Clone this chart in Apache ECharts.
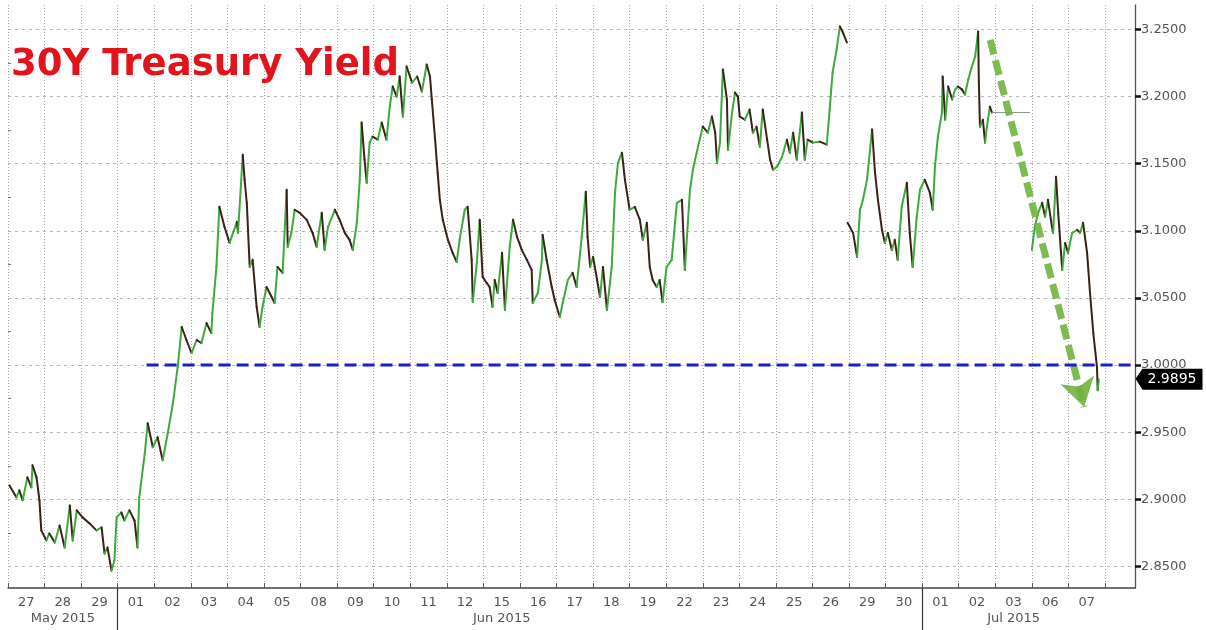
<!DOCTYPE html>
<html>
<head>
<meta charset="utf-8">
<script src="https://cdn.jsdelivr.net/npm/echarts@6/dist/echarts.min.js"></script>
<style>
html,body{margin:0;padding:0;background:#fff;}
#chart{width:1206px;height:630px;}
</style>
</head>
<body>
<div id="chart"></div>
<script>
// ---- data (x = trading-day index + fraction of session, y = yield %) ----
const dayLabels = ['27','28','29','01','02','03','04','05','08','09','10','11','12','15','16','17','18','19','22','23','24','25','26','29','30','01','02','03','06','07'];
const monthLabels = ['May 2015','Jun 2015','Jul 2015'];
const monthLabelPos = [1.5, 13.5, 27.5];
const monthBreaks = [3, 25];
const yTicks = [2.85, 2.90, 2.95, 3.00, 3.05, 3.10, 3.15, 3.20, 3.25];
const yMinorTicks = [2.875, 2.925, 2.975, 3.025, 3.075, 3.125, 3.175, 3.225];

// null marks a break between sessions (price gap)
const pos = [0.04,0.23,0.31,0.40,0.53,0.64,0.67,0.78,0.86,0.91,1.05,1.13,1.28,1.41,1.55,1.69,1.77,1.88,2.04,2.23,2.42,2.56,2.64,2.72,2.83,2.91,2.97,3.10,3.18,3.32,3.46,3.54,3.59,3.74,3.82,3.96,4.09,4.23,4.37,4.51,4.64,4.75,4.88,5.02,5.16,5.29,5.43,5.56,5.59,5.70,5.78,5.92,6.06,6.26,6.29,6.42,6.47,6.53,6.61,6.69,6.80,6.88,6.96,7.07,7.21,7.29,7.37,7.51,7.62,7.65,7.75,7.84,7.98,8.17,8.33,8.44,8.58,8.66,8.75,8.94,9.07,9.21,9.34,9.43,9.54,9.62,9.67,9.75,9.81,9.89,9.97,10.11,10.22,10.35,10.44,10.52,10.63,10.71,10.80,10.90,11.05,11.19,11.32,11.45,11.54,11.59,11.68,11.75,11.81,11.89,12.03,12.16,12.27,12.35,12.49,12.57,12.68,12.71,12.82,12.90,12.98,13.09,13.17,13.25,13.31,13.39,13.51,13.59,13.72,13.81,13.92,14.05,14.19,14.32,14.35,14.49,14.60,14.62,14.73,14.87,14.95,15.09,15.17,15.31,15.44,15.55,15.69,15.80,15.85,15.92,16.00,16.11,16.19,16.27,16.38,16.51,16.60,16.68,16.79,16.87,17.00,17.14,17.28,17.36,17.47,17.55,17.63,17.74,17.82,17.90,18.01,18.15,18.29,18.43,18.51,18.65,18.73,18.87,19.00,19.14,19.25,19.34,19.39,19.47,19.55,19.66,19.69,19.80,19.88,19.96,20.01,20.15,20.28,20.37,20.47,20.56,20.64,20.76,20.84,20.92,21.03,21.17,21.30,21.38,21.47,21.57,21.71,21.79,21.87,22.01,22.20,22.39,22.47,22.55,22.66,22.75,22.83,22.94,
 null,
 22.96,23.11,23.22,23.30,23.38,23.49,23.63,23.71,23.79,23.90,23.98,24.06,24.17,24.25,24.33,24.44,24.58,24.66,24.74,24.85,24.94,25.07,25.21,25.29,25.35,25.43,25.54,25.56,25.63,25.71,25.82,25.90,25.98,26.09,26.17,26.26,26.36,26.45,26.53,26.55,26.58,26.66,26.72,26.77,26.85,26.91,27.94,
 null,
 28.00,28.08,28.17,28.28,28.36,28.44,28.55,28.58,28.66,28.72,28.83,28.91,28.99,29.10,29.24,29.32,29.40,29.51,29.59,29.68,29.78,29.80,29.83];
const yld = [2.9104,2.9015,2.9067,2.8993,2.9164,2.9090,2.9254,2.9164,2.8993,2.8769,2.8694,2.8746,2.8679,2.8806,2.8642,2.8955,2.8694,2.8918,2.8866,2.8821,2.8769,2.8791,2.8597,2.8642,2.8470,2.8545,2.8866,2.8903,2.8843,2.8918,2.8843,2.8642,2.9015,2.9343,2.9567,2.9388,2.9463,2.9291,2.9493,2.9716,2.9985,3.0284,3.0187,3.0090,3.0187,3.0164,3.0313,3.0239,3.0388,3.0731,3.1179,3.1030,3.0910,3.1067,3.0985,3.1567,3.1381,3.1209,3.0731,3.0784,3.0433,3.0284,3.0433,3.0582,3.0507,3.0463,3.0731,3.0687,3.1306,3.0881,3.0985,3.1157,3.1134,3.1082,3.0985,3.0881,3.1134,3.0858,3.1030,3.1157,3.1082,3.0985,3.0933,3.0858,3.1060,3.1381,3.1806,3.1530,3.1358,3.1657,3.1701,3.1679,3.1806,3.1679,3.1925,3.2075,3.2000,3.2149,3.1851,3.2224,3.2104,3.2149,3.2037,3.2239,3.2149,3.1978,3.1679,3.1433,3.1231,3.1082,3.0933,3.0836,3.0769,3.0933,3.1157,3.1179,3.0784,3.0470,3.0761,3.1082,3.0657,3.0612,3.0582,3.0433,3.0634,3.0537,3.0836,3.0410,3.0881,3.1082,3.0955,3.0858,3.0784,3.0709,3.0463,3.0537,3.0784,3.0970,3.0784,3.0582,3.0485,3.0358,3.0463,3.0634,3.0687,3.0582,3.0955,3.1291,3.0955,3.0731,3.0806,3.0634,3.0507,3.0731,3.0410,3.0731,3.1284,3.1507,3.1582,3.1381,3.1157,3.1179,3.1082,3.0933,3.1060,3.0731,3.0634,3.0582,3.0634,3.0470,3.0731,3.0784,3.1209,3.1231,3.0709,3.1306,3.1455,3.1627,3.1776,3.1731,3.1851,3.1731,3.1507,3.1657,3.2201,3.1978,3.1604,3.1881,3.2030,3.2000,3.1851,3.1828,3.1903,3.1731,3.1776,3.1627,3.1903,3.1679,3.1530,3.1455,3.1478,3.1552,3.1679,3.1582,3.1731,3.1530,3.1881,3.1530,3.1679,3.1657,3.1664,3.1642,3.1903,3.2179,3.2351,3.2522,3.2478,3.2403,
 null,
 3.1060,3.0985,3.0806,3.1157,3.1231,3.1381,3.1754,3.1433,3.1231,3.1007,3.0910,3.0985,3.0858,3.0933,3.0784,3.1179,3.1358,3.0985,3.0731,3.1104,3.1306,3.1381,3.1284,3.1157,3.1478,3.1701,3.1881,3.2149,3.1828,3.2075,3.1978,3.2052,3.2075,3.2052,3.2015,3.2127,3.2224,3.2299,3.2485,3.2104,3.1776,3.1828,3.1657,3.1776,3.1925,3.1881,3.1881,
 null,
 3.0858,3.1030,3.1134,3.1209,3.1104,3.1231,3.1030,3.0985,3.1403,3.1134,3.0709,3.0910,3.0836,3.0985,3.1007,3.0985,3.1060,3.0836,3.0537,3.0239,2.9985,2.9813,2.9895];

const lastValue = 2.9895;
const supportLevel = 3.00;
const supportLine = [[3.79, supportLevel], [30.82, supportLevel]];
const trendArrow = [[26.86, 3.2422], [29.43, 2.9688]];

const X_MIN = 0, X_MAX = 30.82, Y_MIN = 2.834, Y_MAX = 3.2682;
const UP = '#3cab3c', DOWN = '#3a2216', FLAT = '#8a958a';

// build segments between consecutive readings
const segs = [];
for (let i = 1; i < pos.length; i++) {
  if (pos[i] == null || pos[i - 1] == null) continue;
  segs.push([pos[i - 1], yld[i - 1], pos[i], yld[i]]);
}

const chart = echarts.init(document.getElementById('chart'), null, {renderer: 'canvas'});
const font = 'DejaVu Sans';
chart.setOption({
  animation: false,
  backgroundColor: '#ffffff',
  grid: {left: 8, right: 71, top: 5, bottom: 42, containLabel: false},
  graphic: [{
    type: 'text', x: 11, y: 65, z: 100,
    style: {text: '30Y Treasury Yield', font: 'bold 37px "DejaVu Sans"', fill: '#e3131b', align: 'left', verticalAlign: 'middle'}
  }],
  xAxis: [{
    type: 'value', position: 'bottom', min: X_MIN, max: X_MAX,
    axisLine: {show: true, onZero: false, lineStyle: {color: '#444', width: 1.5}},
    axisTick: {show: true, inside: true, length: 5, customValues: dayLabels.map((d, i) => i).concat([dayLabels.length]), lineStyle: {color: '#555'}},
    splitLine: {show: true, lineStyle: {color: '#a8a8a8', type: [1, 2], width: 1}},
    axisLabel: {
      customValues: dayLabels.map((d, i) => i + 0.5),
      formatter: v => dayLabels[Math.floor(v)] || '',
      color: '#555', fontSize: 13, fontFamily: font, margin: 8
    }
  }, {
    type: 'value', position: 'bottom', min: X_MIN, max: X_MAX,
    axisLine: {show: false, onZero: false},
    axisTick: {show: true, inside: false, length: 42, customValues: monthBreaks, lineStyle: {color: '#333', width: 1.2}},
    splitLine: {show: false},
    axisLabel: {
      customValues: monthLabelPos,
      formatter: v => monthLabels[monthLabelPos.indexOf(v)] || '',
      color: '#555', fontSize: 13, fontFamily: font, margin: 24
    }
  }],
  yAxis: [{
    type: 'value', position: 'right', min: Y_MIN, max: Y_MAX,
    axisLine: {show: true, onZero: false, lineStyle: {color: '#555', width: 1.3}},
    axisTick: {show: true, inside: false, length: 6, customValues: yTicks, lineStyle: {color: '#111', width: 2.5}},
    splitLine: {show: true, lineStyle: {color: '#b5b5b5', type: [3, 4], width: 1}},
    axisLabel: {customValues: yTicks, formatter: v => v.toFixed(4), color: '#555', fontSize: 13, fontFamily: font, margin: 6}
  }, {
    type: 'value', position: 'right', min: Y_MIN, max: Y_MAX,
    axisLine: {show: false},
    axisTick: {show: true, inside: false, length: 3, customValues: yMinorTicks, lineStyle: {color: '#777', width: 1}},
    splitLine: {show: false},
    axisLabel: {show: false}
  }],
  series: [{
    type: 'custom', name: '30Y', xAxisIndex: 0, yAxisIndex: 0, clip: true,
    encode: {x: [0, 2], y: [1, 3]},
    data: segs,
    renderItem: function (params, api) {
      const a = api.coord([api.value(0), api.value(1)]);
      const b = api.coord([api.value(2), api.value(3)]);
      const d = api.value(3) - api.value(1);
      const color = d > 0 ? UP : (d < 0 ? DOWN : FLAT);
      return {
        type: 'line',
        shape: {x1: a[0], y1: a[1], x2: b[0], y2: b[1]},
        style: {stroke: color, lineWidth: d === 0 ? 1 : 2, lineCap: 'round'}
      };
    }
  }, {
    type: 'line', name: 'support', xAxisIndex: 0, yAxisIndex: 0,
    data: supportLine, symbol: 'none', z: 5,
    lineStyle: {color: '#1d1dd0', width: 3, type: [12, 6]},
    markLine: {
      silent: true, animation: false,
      data: [[
        {coord: trendArrow[0], symbol: 'none'},
        {coord: trendArrow[1], symbol: 'arrow', symbolSize: [26, 28]}
      ]],
      lineStyle: {color: '#70b43e', width: 7, type: [15, 6], opacity: 0.9},
      label: {show: false}
    },
    markPoint: {
      silent: true, animation: false,
      data: [{
        coord: [X_MAX, lastValue], value: lastValue,
        symbol: 'path://M0,10 L7,0 L67,0 L67,21 L7,21 Z',
        symbolSize: [67, 21], symbolOffset: [34, 0], symbolKeepAspect: false,
        itemStyle: {color: '#000'},
        label: {show: true, position: 'inside', offset: [3, 0], formatter: p => Number(p.value).toFixed(4), color: '#fff', fontSize: 14, fontFamily: font}
      }]
    }
  }]
});
</script>
</body>
</html>
